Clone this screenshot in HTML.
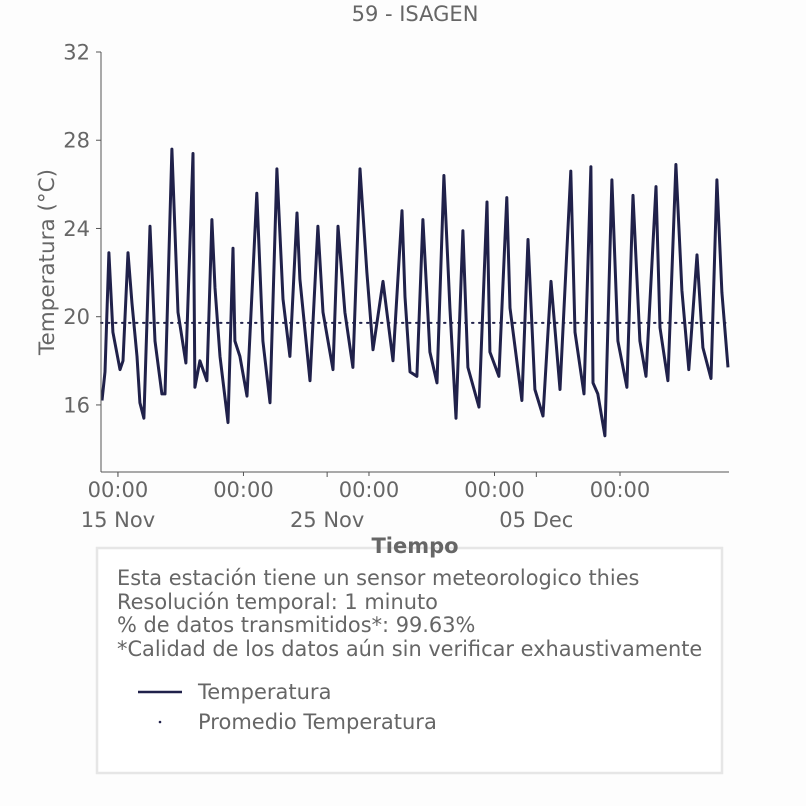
<!DOCTYPE html>
<html><head><meta charset="utf-8"><style>
html,body{margin:0;padding:0;background:#fff;}
svg text{font-family:"DejaVu Sans","Liberation Sans",sans-serif;fill:#666;}
</style></head><body>
<svg width="806" height="806" viewBox="0 0 806 806" xmlns="http://www.w3.org/2000/svg">
<rect x="0" y="0" width="806" height="806" fill="#fdfdfd"/>
<text x="415" y="21" text-anchor="middle" font-size="21">59 - ISAGEN</text>
<text transform="translate(54,262) rotate(-90)" text-anchor="middle" font-size="21.5">Temperatura (°C)</text>
<g id="plot"></g>
<g>
<rect x="97" y="548" width="625" height="225" fill="#fff" stroke="#e6e6e6" stroke-width="2.5"/>
<text x="117" y="585" font-size="20.9">Esta estación tiene un sensor meteorologico thies</text>
<text x="117" y="609" font-size="20.9">Resolución temporal: 1 minuto</text>
<text x="117" y="632" font-size="20.9">% de datos transmitidos*: 99.63%</text>
<text x="117" y="656" font-size="20.9">*Calidad de los datos aún sin verificar exhaustivamente</text>
<g>
<line x1="138" y1="692" x2="182" y2="692" stroke="#20214a" stroke-width="2.5"/>
<text x="198" y="699" font-size="21">Temperatura</text></g>
<g>
<circle cx="160" cy="722" r="1.3" fill="#20214a"/>
<text x="198" y="729" font-size="21">Promedio Temperatura</text></g>
</g>
<text x="415" y="553" text-anchor="middle" font-size="21" font-weight="bold">Tiempo</text>
</svg>
<script>
// days since 15 Nov 00:00
const times=[-0.76,-0.62,-0.43,-0.24,0.10,0.24,0.48,0.67,0.91,1.05,1.24,1.53,1.77,2.10,2.25,2.58,2.87,3.25,3.59,3.68,3.92,4.25,4.49,4.64,4.88,5.26,5.50,5.59,5.83,6.17,6.64,6.93,7.27,7.60,7.89,8.22,8.56,8.70,9.18,9.56,9.80,10.28,10.52,10.85,11.23,11.57,11.90,12.19,12.67,13.15,13.58,13.72,13.96,14.29,14.58,14.91,15.25,15.58,15.87,16.16,16.49,16.73,17.26,17.64,17.78,18.21,18.59,18.74,19.31,19.60,19.93,20.32,20.70,21.13,21.65,21.85,22.28,22.61,22.71,22.94,23.28,23.61,23.90,24.33,24.62,24.95,25.24,25.72,25.91,26.29,26.67,26.96,27.29,27.68,27.96,28.35,28.63,28.87,29.16];
const temps=[16.2,17.5,22.9,19.3,17.6,18.0,22.9,20.6,18.2,16.1,15.4,24.1,18.9,16.5,16.5,27.6,20.2,17.9,27.4,16.8,18.0,17.1,24.4,21.3,18.2,15.2,23.1,18.9,18.2,16.4,25.6,18.9,16.1,26.7,20.8,18.2,24.7,21.7,17.1,24.1,20.2,17.6,24.1,20.2,17.7,26.7,22.0,18.5,21.6,18.0,24.8,20.9,17.5,17.3,24.4,18.4,17.0,26.4,20.4,15.4,23.9,17.7,15.9,25.2,18.4,17.3,25.4,20.4,16.2,23.5,16.7,15.5,21.6,16.7,26.6,19.3,16.5,26.8,17.0,16.5,14.6,26.2,18.9,16.8,25.5,18.9,17.3,25.9,19.5,17.1,26.9,21.2,17.6,22.8,18.6,17.2,26.2,21.1,17.7];
const meanTemp=[19.72];
const yTicks=[16,20,24,28,32];
const hourTicks=[0,6,12,18,24];
const dateTicks=[0,10,20];
const dateLabels=["15 Nov","25 Nov","05 Dec"];

const X0=101,X1=729,Y0=472,Y1=52;
const dMin=-0.81,dMax=29.21,tMin=12.96,tMax=32;
const xs=d=>X0+(d-dMin)/(dMax-dMin)*(X1-X0);
const ys=t=>Y0-(t-tMin)/(tMax-tMin)*(Y0-Y1);
const NS="http://www.w3.org/2000/svg";
const g=document.getElementById('plot');
function mk(tag,attrs){const e=document.createElementNS(NS,tag);for(const k in attrs)e.setAttribute(k,attrs[k]);g.appendChild(e);return e;}

const line=mk('polyline',{points:times.map((d,i)=>xs(d).toFixed(1)+','+ys(temps[i]).toFixed(1)).join(' '),fill:'none',stroke:'#20214a','stroke-width':3,'stroke-linejoin':'round'});



const m=mk('line',{x1:X0,x2:X1,y1:ys(meanTemp[0]),y2:ys(meanTemp[0]),stroke:'#20214a','stroke-width':2,'stroke-dasharray':'1.5,5.5','stroke-linecap':'round'});



const ya=mk('line',{x1:X0,x2:X0,y1:Y1,y2:Y0,stroke:'#555','stroke-width':1});


const xa=mk('line',{x1:X0,x2:X1,y1:Y0,y2:Y0,stroke:'#555','stroke-width':1});



yTicks.forEach(v=>{
  const t=mk('line',{x1:X0-5,x2:X0,y1:ys(v),y2:ys(v),stroke:'#555'});
  
  
  const l=mk('text',{x:X0-11,y:ys(v)+7.5,'text-anchor':'end','font-size':21});
  l.textContent=v;
  
  
});
hourTicks.forEach(v=>{
  const t=mk('line',{x1:xs(v),x2:xs(v),y1:Y0,y2:Y0+4,stroke:'#555'});
  
  
  const l=mk('text',{x:xs(v),y:Y0+25,'text-anchor':'middle','font-size':21});
  l.textContent='00:00';
  
  
});
dateTicks.forEach((v,i)=>{
  const t=mk('line',{x1:xs(v),x2:xs(v),y1:Y0,y2:Y0+5,stroke:'#555'});
  
  
  const l=mk('text',{x:xs(v),y:Y0+55,'text-anchor':'middle','font-size':21});
  l.textContent=dateLabels[i];
  
  
});
</script>
</body></html>
